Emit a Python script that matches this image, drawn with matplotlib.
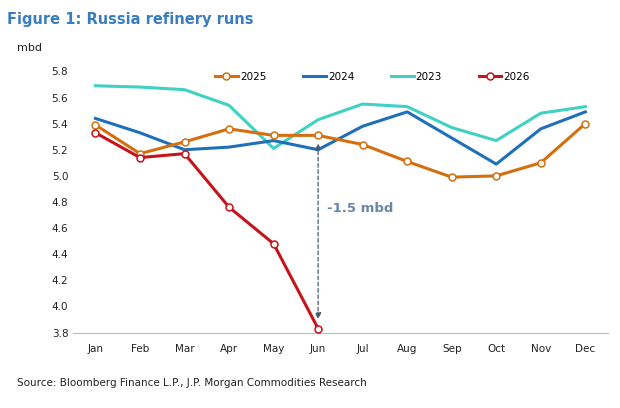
import matplotlib
matplotlib.use("Agg")
import matplotlib.pyplot as plt

months = ["Jan","Feb","Mar","Apr","May","Jun","Jul","Aug","Sep","Oct","Nov","Dec"]
s2025 = [5.39,5.17,5.26,5.36,5.31,5.31,5.24,5.11,4.99,5.00,5.10,5.40]
s2024 = [5.44,5.33,5.20,5.22,5.27,5.20,5.38,5.49,5.29,5.09,5.36,5.49]
s2023 = [5.69,5.68,5.66,5.54,5.21,5.43,5.55,5.53,5.37,5.27,5.48,5.53]
s2026 = [5.33,5.14,5.17,4.76,4.48,3.83]
yticks = [3.8,4.0,4.2,4.4,4.6,4.8,5.0,5.2,5.4,5.6,5.8]

fig = plt.figure(figsize=(6.2,4.08), dpi=100)
ax = fig.add_axes([0.118, 0.185, 0.862, 0.64])
x = list(range(12))
ax.plot(x, s2025, color="#D46F0F", lw=2.2, marker="o", mfc="white", ms=5, mew=1.1, label="2025", zorder=4)
ax.plot(x, s2024, color="#1F70B8", lw=2.2, label="2024", zorder=3)
ax.plot(x, s2023, color="#3FD1C4", lw=2.2, label="2023", zorder=2)
ax.plot(x[:len(s2026)], s2026, color="#C5141B", lw=2.2, marker="o", mfc="white", ms=5, mew=1.1, label="2026", zorder=5)
ax.annotate("", xy=(5, 3.88), xytext=(5, 5.27),
            arrowprops=dict(arrowstyle="<|-|>", color="#4A5A75", ls=(0,(3,2)), lw=0.9, mutation_scale=9))
ax.text(5.2, 4.72, "-1.5 mbd", color="#6A86A8", fontsize=9.5, fontweight="bold")
ax.set_xlim(-0.5, 11.5)
ax.set_ylim(3.8, 5.8)
ax.set_yticks(yticks)
ax.set_yticklabels([f"{v:.1f}" for v in yticks])
ax.set_xticks(x)
ax.set_xticklabels(months)
ax.tick_params(labelsize=7.5, length=0, colors="#222222")
ax.tick_params(axis="x", pad=8)
for s in ["top","right","left"]:
    ax.spines[s].set_visible(False)
ax.spines["bottom"].set_color("#BBBBBB")
ax.legend(loc="upper center", bbox_to_anchor=(0.56, 1.035), ncol=4, frameon=False, fontsize=7.5,
          handlelength=2.2, columnspacing=3.5, handletextpad=0.2)
fig.text(0.012, 0.94, "Figure 1: Russia refinery runs", color="#3A7DBF", fontsize=10.5, fontweight="bold")
fig.text(0.028, 0.875, "mbd", fontsize=8, color="#222222")
fig.text(0.028, 0.055, "Source: Bloomberg Finance L.P., J.P. Morgan Commodities Research", fontsize=7.5, color="#222222")
fig.savefig("out.png", dpi=100)
